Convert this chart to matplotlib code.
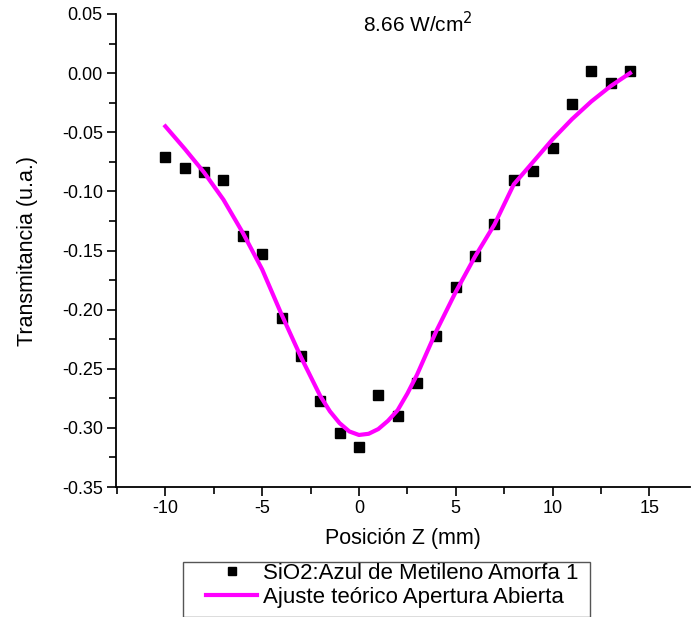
import matplotlib.pyplot as plt
from matplotlib.patches import Rectangle
from matplotlib.ticker import MultipleLocator

plt.rcParams['font.family'] = ['Liberation Sans', 'DejaVu Sans']
plt.rcParams['axes.unicode_minus'] = False

# measured points
z_data = [-10, -9, -8, -7, -6, -5, -4, -3, -2, -1, 0, 1, 2, 3, 4, 5, 6, 7,
          8, 9, 10, 11, 12, 13, 14]
t_data = [-0.071, -0.080, -0.084, -0.090, -0.138, -0.153, -0.207, -0.239,
          -0.277, -0.304, -0.316, -0.272, -0.290, -0.262, -0.222, -0.181,
          -0.155, -0.128, -0.090, -0.083, -0.063, -0.026, 0.002, -0.008,
          0.002]

# theoretical fit curve
z_fit = [-10, -9, -8, -7, -6, -5, -4, -3, -2, -1.5, -1, -0.5, 0, 0.5, 1,
         1.5, 2, 2.5, 3, 4, 5, 6, 7, 8, 9, 10, 11, 12, 13, 14]
t_fit = [-0.045, -0.064, -0.084, -0.107, -0.135, -0.166, -0.204, -0.240,
         -0.273, -0.286, -0.296, -0.303, -0.306, -0.305, -0.301, -0.294,
         -0.285, -0.271, -0.255, -0.218, -0.185, -0.155, -0.128, -0.094,
         -0.075, -0.056, -0.039, -0.024, -0.011, 0.000]

W, H = 691, 617
fig = plt.figure(figsize=(W / 100, H / 100), dpi=100)
ax = fig.add_axes([116 / W, 1 - 487 / H, (690 - 116) / W, (487 - 14) / H])

ax.plot(z_data, t_data, 's', color='black', markersize=7,
        label='SiO2:Azul de Metileno Amorfa 1')
ax.plot(z_fit, t_fit, '-', color='#FF00FF', linewidth=3,
        label='Ajuste teórico Apertura Abierta')

ax.set_xlim(-12.55, 17.1)
ax.set_ylim(-0.35, 0.05)
ax.xaxis.set_major_locator(MultipleLocator(5))
ax.xaxis.set_minor_locator(MultipleLocator(2.5))
ax.yaxis.set_major_locator(MultipleLocator(0.05))
ax.yaxis.set_minor_locator(MultipleLocator(0.025))
ax.yaxis.set_major_formatter(plt.FuncFormatter(lambda v, p: f'{v:.2f}'))

for s in ['top', 'right']:
    ax.spines[s].set_visible(False)
for s in ['left', 'bottom']:
    ax.spines[s].set_linewidth(1.3)

ax.tick_params(which='major', direction='out', length=6.5, width=1.2,
               labelsize=13, pad=3)
ax.tick_params(which='minor', direction='out', length=5, width=1.2)

ax.set_xlabel('Posición Z (mm)', fontsize=15.5, labelpad=8)
ax.set_ylabel('Transmitancia (u.a.)', fontsize=15.5, labelpad=17)

ax.text(3.05, 0.0348, '8.66 W/cm$^2$', fontsize=15, ha='center',
        va='baseline')

# legend box below the plot
fig.patches.append(Rectangle((183 / W, 0), (590 - 183) / W, (617 - 562) / H,
                             transform=fig.transFigure, fill=False,
                             edgecolor='#555555', linewidth=1.0))
fig.legend(loc='upper left', bbox_to_anchor=(206 / W, 1 - 563 / H),
           fontsize=16, frameon=False, handlelength=2.3, handletextpad=0.25,
           borderpad=0, labelspacing=0.12, borderaxespad=0, markerscale=0.75)

plt.savefig('out.png')
plt.close()
